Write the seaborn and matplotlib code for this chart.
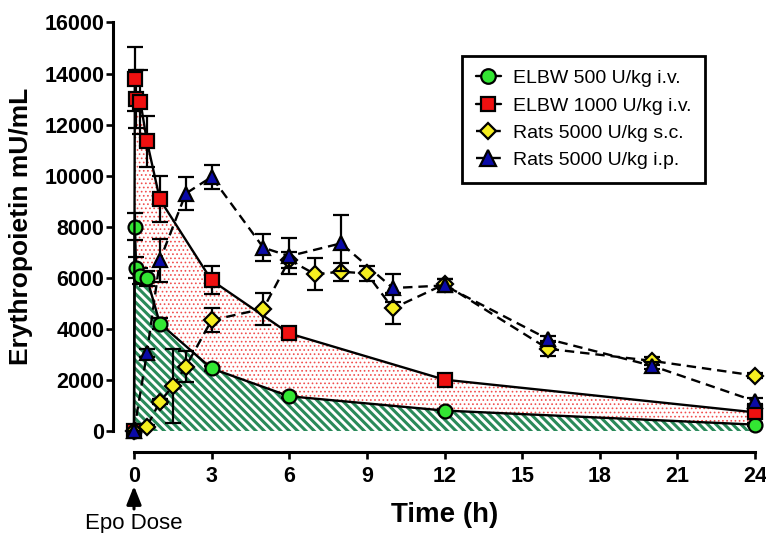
import numpy as np
import pandas as pd
import matplotlib
matplotlib.use("Agg")
import matplotlib.pyplot as plt
import matplotlib.transforms as mtransforms
import seaborn as sns

# ELBW infants (i.v.), same sampling times for both doses
t_elbw = [0, 0.033, 0.083, 0.25, 0.5, 1, 3, 6, 12, 24]
epo_500 = [0, 8000, 6400, 6070, 5980, 4210, 2450, 1360, 800, 250]
sd_500 = [0, 530, 400, 300, 300, 200, 100, 80, 60, 50]
epo_1000 = [0, 13800, 13000, 12880, 11350, 9070, 5900, 3820, 2010, 730]
sd_1000 = [0, 1250, 1150, 1250, 1000, 900, 550, 150, 100, 100]

# Rats 5000 U/kg s.c.
t_sc = [0, 0.5, 1, 1.5, 2, 3, 5, 6, 7, 8, 9, 10, 12, 16, 20, 24]
epo_sc = [0, 175, 1150, 1750, 2520, 4340, 4790, 6700, 6140, 6240, 6170, 4800, 5750, 3220, 2750, 2170]
sd_sc = [0, 50, 100, 1450, 620, 470, 630, 300, 620, 350, 280, 620, 200, 300, 150, 100]

# Rats 5000 U/kg i.p.
t_ip = [0, 0.5, 1, 2, 3, 5, 6, 8, 10, 12, 16, 20, 24]
epo_ip = [0, 3050, 6680, 9300, 9950, 7180, 6850, 7350, 5600, 5700, 3600, 2560, 1170]
sd_ip = [0, 150, 850, 650, 480, 520, 700, 1100, 550, 250, 120, 150, 120]

labels = ["ELBW 500 U/kg i.v.", "ELBW 1000 U/kg i.v.",
          "Rats 5000 U/kg s.c.", "Rats 5000 U/kg i.p."]
xticks = [0, 3, 6, 9, 12, 15, 18, 21, 24]
yticks = [0, 2000, 4000, 6000, 8000, 10000, 12000, 14000, 16000]

sns.set_style("ticks")
plt.rcParams['font.family'] = ['Liberation Sans', 'DejaVu Sans']
plt.rcParams.update({'text.color': 'black', 'axes.labelcolor': 'black',
                     'xtick.color': 'black', 'ytick.color': 'black',
                     'axes.edgecolor': 'black'})

fig = plt.figure(figsize=(7.66, 5.33), dpi=100)
ax = fig.add_axes([134 / 766, 1 - 431 / 533, 621 / 766, 408.5 / 533])

# shaded areas under the ELBW curves
with plt.rc_context({'hatch.linewidth': 2.2}):
    ax.fill_between(t_elbw, epo_500, 0, facecolor='white', edgecolor='#2a8a5a',
                    hatch='\\\\\\\\', linewidth=0, zorder=1)
with plt.rc_context({'hatch.linewidth': 0.7}):
    ax.fill_between(t_elbw, epo_1000, epo_500, facecolor='white', edgecolor='#f04f4f',
                    hatch='....', linewidth=0, zorder=1)

series = [
    (t_elbw, epo_500, sd_500, labels[0], 'o', '#33e633', '-', 10),
    (t_elbw, epo_1000, sd_1000, labels[1], 's', '#f01010', '-', 10),
    (t_sc, epo_sc, sd_sc, labels[2], 'D', '#f5ee20', (0, (4, 2.5)), 8),
    (t_ip, epo_ip, sd_ip, labels[3], '^', '#0a0aa8', (0, (4, 2.5)), 10.5),
]

for i, (t, v, sd, lab, mk, col, ls, ms) in enumerate(series):
    ax.errorbar(t, v, yerr=sd, fmt='none', ecolor='black', elinewidth=1.6,
                capsize=5.5, capthick=1.6, zorder=3 + i, clip_on=False)
    df = pd.DataFrame({'time': t, 'epo': v})
    sns.lineplot(data=df, x='time', y='epo', ax=ax, estimator=None, label=lab,
                 color='black', linestyle=ls, linewidth=1.7, marker=mk,
                 markersize=ms, markerfacecolor=col, markeredgecolor='black',
                 markeredgewidth=1.6, zorder=3 + i, clip_on=False)

# offset spines first: moving them rebuilds the tick labels
sns.despine(ax=ax, offset=15)
for side in ['left', 'bottom']:
    ax.spines[side].set_linewidth(2.2)
    ax.spines[side].set_color('black')

ax.set_xlim(0, 24)
ax.set_ylim(0, 16000)
ax.tick_params(axis='both', length=5, width=1.9, labelsize=15.5, colors='black')
ax.tick_params(axis='x', pad=5)
ax.tick_params(axis='y', pad=1.5)
ax.set_xticks(xticks)
ax.set_xticklabels([str(x) for x in xticks], fontsize=15.5, fontweight='bold')
ax.set_yticks(yticks)
ax.set_yticklabels([str(y) for y in yticks], fontsize=15.5, fontweight='bold')

ax.set_xlabel("Time (h)", fontsize=20, fontweight='bold')
ax.xaxis.set_label_coords(0.5, -0.175)
ax.xaxis.label.set_va('top')
ax.set_ylabel("Erythropoietin mU/mL", fontsize=19, fontweight='bold')
ax.yaxis.set_label_coords(-0.163, 0.5)

leg = ax.legend(loc='upper left', bbox_to_anchor=(462 / 766, 1 - 56 / 533),
                bbox_transform=fig.transFigure, borderaxespad=0, fontsize=14,
                frameon=True, fancybox=False, framealpha=1, edgecolor='black',
                handlelength=1.3, handletextpad=0.6, labelspacing=0.5,
                borderpad=0.7, markerscale=1.05)
leg.get_frame().set_linewidth(2)

# Epo dose marker under the x axis
trans = mtransforms.blended_transform_factory(ax.transData, fig.transFigure)
ax.annotate('', xy=(0, 1 - 486 / 533), xytext=(0, 1 - 509 / 533),
            xycoords=trans, textcoords=trans,
            arrowprops=dict(arrowstyle='-|>,head_length=0.55,head_width=0.22',
                            color='black', lw=2.2, mutation_scale=20,
                            shrinkA=0, shrinkB=0),
            annotation_clip=False)
ax.text(0, 1 - 523 / 533, "Epo Dose", transform=trans, ha='center', va='center',
        fontsize=16)

fig.savefig("out.png", dpi=100)
